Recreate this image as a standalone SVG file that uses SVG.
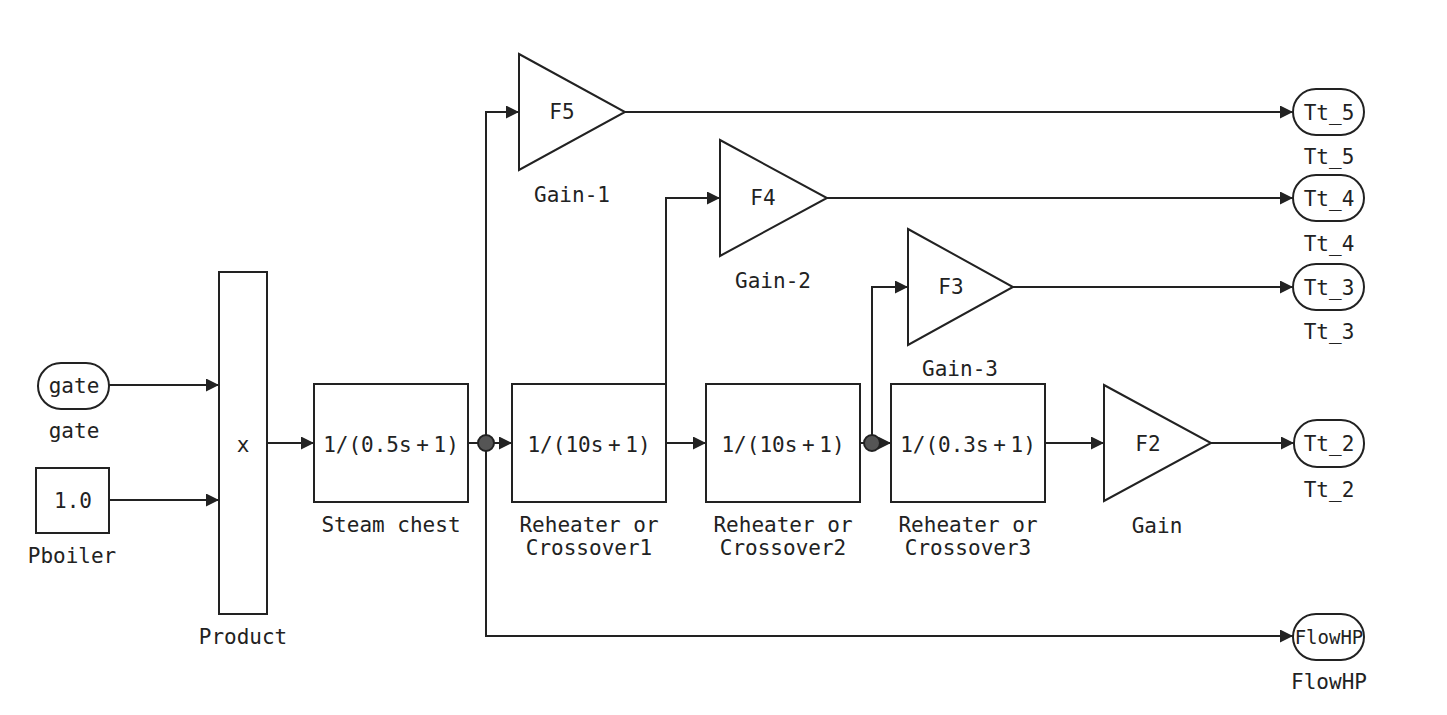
<svg xmlns="http://www.w3.org/2000/svg" width="1447" height="715" viewBox="0 0 1447 715">
<style>
text{font-family:"DejaVu Sans Mono","Liberation Mono",monospace;font-size:21px;fill:#222;text-anchor:middle}
.blk{fill:#fff;stroke:#222;stroke-width:2}
.tf{word-spacing:-8px}
.wire{fill:none;stroke:#222;stroke-width:2}
.jn{fill:#555;stroke:#222;stroke-width:2}
</style>
<defs>
<marker id="ah" markerUnits="userSpaceOnUse" markerWidth="14" markerHeight="14" refX="13" refY="6.5" orient="auto">
<path d="M0,0 L13,6.5 L0,13 z" fill="#222"/>
</marker>
</defs>
<rect width="1447" height="715" fill="#fff"/>
<g id="connectors">
<path class="wire" d="M109,385 H219" marker-end="url(#ah)"/>
<path class="wire" d="M109,500 H219" marker-end="url(#ah)"/>
<path class="wire" d="M267,443 H314" marker-end="url(#ah)"/>
<path class="wire" d="M468,443 H512" marker-end="url(#ah)"/>
<path class="wire" d="M486,443 V112 H519" marker-end="url(#ah)"/>
<path class="wire" d="M486,443 V636 H1293" marker-end="url(#ah)"/>
<path class="wire" d="M666,443 V198 H720" marker-end="url(#ah)"/>
<path class="wire" d="M666,443 H706" marker-end="url(#ah)"/>
<path class="wire" d="M860,443 H891" marker-end="url(#ah)"/>
<path class="wire" d="M872,443 V287 H908" marker-end="url(#ah)"/>
<path class="wire" d="M1045,443 H1104" marker-end="url(#ah)"/>
<path class="wire" d="M1211,443 H1294" marker-end="url(#ah)"/>
<path class="wire" d="M625,112 H1293" marker-end="url(#ah)"/>
<path class="wire" d="M827,198 H1293" marker-end="url(#ah)"/>
<path class="wire" d="M1013,287 H1293" marker-end="url(#ah)"/>
<circle class="jn" cx="486" cy="443" r="8"/>
<circle class="jn" cx="872" cy="443" r="8"/>
</g>
<g id="gate">
<rect class="blk" x="38" y="363" width="71" height="46" rx="23"/>
<text x="74" y="393">gate</text>
<text x="74" y="438">gate</text>
</g>
<g id="Pboiler">
<rect class="blk" x="36" y="468" width="73" height="65"/>
<text x="73" y="508">1.0</text>
<text x="72" y="563">Pboiler</text>
</g>
<g id="Product">
<rect class="blk" x="219" y="272" width="48" height="342"/>
<text x="243" y="452">x</text>
<text x="243" y="644">Product</text>
</g>
<g id="SteamChest">
<rect class="blk" x="314" y="384" width="154" height="118"/>
<text class="tf" x="391" y="452">1/(0.5s + 1)</text>
<text x="391" y="532">Steam chest</text>
</g>
<g id="Reheater1">
<rect class="blk" x="512" y="384" width="154" height="118"/>
<text class="tf" x="589" y="452">1/(10s + 1)</text>
<text x="589" y="532">Reheater or</text>
<text x="589" y="555">Crossover1</text>
</g>
<g id="Reheater2">
<rect class="blk" x="706" y="384" width="154" height="118"/>
<text class="tf" x="783" y="452">1/(10s + 1)</text>
<text x="783" y="532">Reheater or</text>
<text x="783" y="555">Crossover2</text>
</g>
<g id="Reheater3">
<rect class="blk" x="891" y="384" width="154" height="118"/>
<text class="tf" x="968" y="452">1/(0.3s + 1)</text>
<text x="968" y="532">Reheater or</text>
<text x="968" y="555">Crossover3</text>
</g>
<g id="Gain">
<path class="blk" d="M1104,385 L1211,443 L1104,501 z"/>
<text x="1148" y="451">F2</text>
<text x="1157" y="533">Gain</text>
</g>
<g id="Gain1">
<path class="blk" d="M519,54 L625,112 L519,170 z"/>
<text x="562" y="119">F5</text>
<text x="572" y="202">Gain-1</text>
</g>
<g id="Gain2">
<path class="blk" d="M720,140 L827,198 L720,256 z"/>
<text x="763" y="205">F4</text>
<text x="773" y="288">Gain-2</text>
</g>
<g id="Gain3">
<path class="blk" d="M908,229 L1013,287 L908,345 z"/>
<text x="951" y="294">F3</text>
<text x="960" y="376">Gain-3</text>
</g>
<g id="Tt_5">
<rect class="blk" x="1293" y="89" width="71" height="46" rx="23"/>
<text x="1329" y="120">Tt_5</text>
<text x="1329" y="164">Tt_5</text>
</g>
<g id="Tt_4">
<rect class="blk" x="1293" y="175" width="71" height="46" rx="23"/>
<text x="1329" y="206">Tt_4</text>
<text x="1329" y="251">Tt_4</text>
</g>
<g id="Tt_3">
<rect class="blk" x="1293" y="264" width="71" height="46" rx="23"/>
<text x="1329" y="295">Tt_3</text>
<text x="1329" y="339">Tt_3</text>
</g>
<g id="Tt_2">
<rect class="blk" x="1294" y="420" width="70" height="47" rx="23"/>
<text x="1329" y="451">Tt_2</text>
<text x="1329" y="497">Tt_2</text>
</g>
<g id="FlowHP">
<rect class="blk" x="1293" y="614" width="71" height="46" rx="23"/>
<text x="1329" y="644" style="font-size:19px">FlowHP</text>
<text x="1329" y="689">FlowHP</text>
</g>
</svg>
